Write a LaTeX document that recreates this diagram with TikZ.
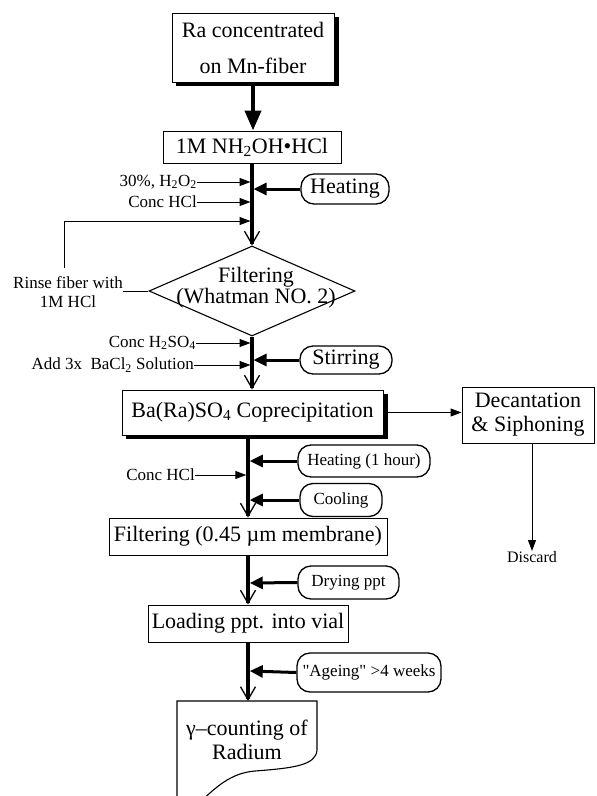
\documentclass[tikz,border=0pt]{standalone}
\usepackage{fontspec}
\setmainfont{Liberation Serif}
\newfontfamily\qfont{Liberation Serif}[Ligatures=TeXOff]
\usetikzlibrary{arrows.meta,shapes.geometric}
\newcommand\fbig{\fontsize{22}{26}\selectfont}
\newcommand\fsmall{\fontsize{17}{19}\selectfont}
\begin{document}
\begin{tikzpicture}[x=1pt,y=-1pt,
  box/.style={draw, line width=1pt, fill=white, inner sep=0pt, font=\fbig},
  shadowfill/.style={fill=black},
  rbox/.style={draw, line width=1.3pt, rounded corners=13pt, fill=white, inner sep=0pt},
  lbl/.style={font=\fsmall, inner sep=0pt},
  mainline/.style={line width=3.5pt, -{Straight Barb[length=13pt,width=15pt,line width=1.3pt]}},
  sidearr/.style={line width=3pt, -{Triangle[length=13pt,width=12pt]}},
  lblarr/.style={line width=1pt, -{Triangle[length=11pt,width=8pt]}},
]
\useasboundingbox (0,0) rectangle (597,796);

% top boxes
\node[box, minimum width=162pt, minimum height=69pt, align=center, font=\fontsize{22}{36}\selectfont] (ra) at (253,47.5) {Ra concentrated\\on Mn-fiber};
\fill[shadowfill] ([yshift=-4pt]ra.north east) rectangle ([xshift=4pt,yshift=-3.5pt]ra.south east);
\fill[shadowfill] ([xshift=4pt]ra.south west) rectangle ([xshift=4pt,yshift=-3.5pt]ra.south east);
\node[box, minimum width=178pt, minimum height=32pt] (nh) at (252,147) {1M NH\textsubscript{2}OH•HCl};
\draw[line width=4pt, -{Triangle[length=20pt,width=16pt]}] ([yshift=-3.5pt]ra.south) -- (ra.south |- nh.north);

% diamond
\node[diamond, draw, line width=1.1pt, minimum width=206pt, minimum height=90pt, inner sep=0pt] (filt) at (252,291) {};
\node[font=\fontsize{22}{19}\selectfont, align=center, inner sep=0pt] (filttxt) at (256,288) {Filtering\\(Whatman NO. 2)};
\draw[mainline] (nh.south) -- (filt.north);

\coordinate (m1) at (250.5,182);
\coordinate (m2) at (253.5,189);
\coordinate (m3) at (250.5,202);
\coordinate (m4) at (250.5,221);
\node[lbl, anchor=east] (h2o2) at (197,182) {30\%, H\textsubscript{2}O\textsubscript{2}};
\draw[lblarr] (h2o2.east) -- (m1);
\node[rbox, font=\fbig, minimum width=88pt, minimum height=30pt] (heat) at (345,189) {Heating};
\draw[sidearr] (heat.west) -- (m2);
\node[lbl, anchor=east] (conc1) at (197,202) {Conc HCl};
\draw[lblarr] (conc1.east) -- (m3);
\coordinate (rtop) at (64,268);
\coordinate (rcorner) at (64,221);
\draw[lblarr] (rtop) -- (rcorner) -- (m4);
\node[lbl, align=center] (rinse) at (68,292) {Rinse fiber with\\1M HCl};
\draw[line width=1pt] (rinse.east |- filt.west) -- (filt.west);

% coprecipitation
\node[box, minimum width=261pt, minimum height=45pt] (ba) at (252.5,412.5) {Ba(Ra)SO\textsubscript{4} Coprecipitation};
\fill[shadowfill] ([yshift=-4pt]ba.north east) rectangle ([xshift=4.5pt,yshift=-3pt]ba.south east);
\fill[shadowfill] ([xshift=4pt]ba.south west) rectangle ([xshift=4.5pt,yshift=-3pt]ba.south east);
\draw[mainline] (filt.south) -- (filt.south |- ba.north);
\coordinate (m5) at (250.5,343);
\coordinate (m6) at (253.5,360);
\coordinate (m7) at (250.5,365);
\node[lbl, anchor=east] (h2so4) at (196,343) {Conc H\textsubscript{2}SO\textsubscript{4}};
\draw[lblarr] (h2so4.east) -- (m5);
\node[rbox, font=\fbig, minimum width=92pt, minimum height=28pt] (stir) at (346,360) {Stirring};
\draw[sidearr] (stir.west) -- (m6);
\node[lbl, anchor=east] (bacl) at (194,365) {Add 3x\enspace BaCl\textsubscript{2} Solution};
\draw[lblarr] (bacl.east) -- (m7);

% decantation
\node[box, minimum width=132pt, minimum height=56pt, align=center, font=\fontsize{22}{24}\selectfont] (dec) at (528,415) {Decantation\\\& Siphoning};
\draw[lblarr] ([xshift=4.5pt]ba.east) -- (ba.east -| dec.west);
\node[lbl, font=\fontsize{16}{18}\selectfont, anchor=north] (disc) at (532,551) {Discard};
\draw[lblarr] (dec.south -| disc.north) -- (disc.north);

% lower part
\node[box, minimum width=278pt, minimum height=37pt] (f45) at (248,536.5) {Filtering (0.45 µm membrane)};
\draw[mainline] ([yshift=-3pt]ba.south -| f45.north) -- (f45.north);
\coordinate (m8) at (249.75,461);
\coordinate (m9) at (246.25,475);
\coordinate (m10) at (249.75,500);
\coordinate (m11) at (249.75,583);
\coordinate (m12) at (249.75,671);
\node[rbox, font=\fsmall, minimum width=132pt, minimum height=32pt] (heat2) at (364,461) {Heating (1 hour)};
\draw[sidearr] (heat2.west) -- (m8);
\node[lbl, anchor=east] (conc2) at (195,475) {Conc HCl};
\draw[lblarr] (conc2.east) -- (m9);
\node[rbox, font=\fsmall, minimum width=82pt, minimum height=33pt] (cool) at (341,500) {Cooling};
\draw[sidearr] (cool.west) -- (m10);

\node[box, minimum width=200pt, minimum height=37pt] (load) at (248,623.5) {Loading ppt. into vial};
\draw[mainline] (f45.south) -- (load.north);
\node[rbox, font=\fsmall, minimum width=101pt, minimum height=33pt] (dry) at (348.5,582.5) {Drying ppt};
\draw[sidearr] (dry.west) -- (m11);

\coordinate (gtop) at (248,701);
\draw[mainline] (load.south) -- (gtop);
\node[rbox, font=\fsmall, minimum width=144pt, minimum height=39pt] (age) at (369,672.5) {{\qfont "Ageing"} >4 weeks};
\draw[sidearr] (age.west) -- (m12);

% document shape
\draw[line width=1.1pt] (177,805) -- (177,701) -- (317,701) -- (317,750)
  .. controls (316,765) and (295,768) .. (255,771)
  .. controls (230,773) and (215,788) .. (197,805);
\node[font=\fontsize{22}{24}\selectfont, align=center, inner sep=0pt] (gtxt) at (247,740) {γ–counting of\\Radium};
\end{tikzpicture}
\end{document}
